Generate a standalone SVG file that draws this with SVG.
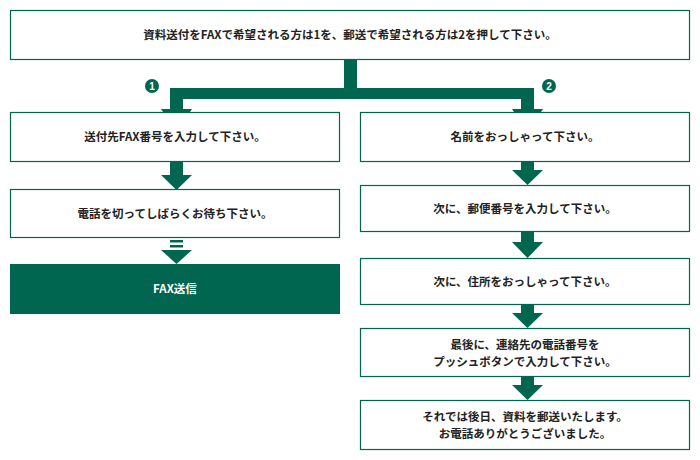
<svg xmlns="http://www.w3.org/2000/svg" width="700" height="460" viewBox="0 0 700 460">
<style>
.b{fill:#fff;stroke:#00664f;stroke-width:1.2}
.t{font-family:"Noto Sans CJK JP","Noto Sans",sans-serif;font-size:11.5px;font-weight:bold;fill:#222;text-anchor:middle}
.a{fill:#00664f}
.n{font-family:"Liberation Sans",sans-serif;font-size:10px;font-weight:bold;fill:#fff;text-anchor:middle}
</style>
<rect width="700" height="460" fill="#fff"/>
<g id="connectors" class="a">
<rect x="344" y="60" width="13" height="29"/>
<rect x="170" y="88" width="364" height="11"/>
<rect x="170" y="88" width="13" height="22"/>
<polygon points="161,109 192,109 176.5,132"/>
<rect x="521" y="88" width="13" height="22"/>
<polygon points="512,109 543,109 527.5,132"/>
<circle cx="152" cy="86" r="7"/><text class="n" x="152" y="89.5">1</text>
<circle cx="549" cy="86" r="7"/><text class="n" x="549" y="89.5">2</text>
<rect x="170" y="162" width="13" height="14"/><polygon points="161,175 192,175 176.5,190"/>
<rect x="170" y="240" width="13" height="2.5"/><rect x="170" y="245" width="13" height="2.5"/>
<polygon points="161,250 192,250 176.5,264"/>
<rect x="521" y="162" width="13" height="9"/><polygon points="512,170 543,170 527.5,185"/>
<rect x="521" y="232" width="13" height="11"/><polygon points="512,242 543,242 527.5,258"/>
<rect x="521" y="305" width="13" height="9"/><polygon points="512,313 543,313 527.5,328"/>
<rect x="521" y="377" width="13" height="9"/><polygon points="512,385 543,385 527.5,400"/>
</g>
<g id="top"><rect class="b" x="10.5" y="10.5" width="679" height="49"/><text class="t" x="350" y="39">資料送付をFAXで希望される方は1を、郵送で希望される方は2を押して下さい。</text></g>
<g id="l1"><rect class="b" x="10.5" y="112.5" width="329" height="49"/><text class="t" x="175" y="141">送付先FAX番号を入力して下さい。</text></g>
<g id="l2"><rect class="b" x="10.5" y="189.5" width="329" height="48"/><text class="t" x="175" y="218">電話を切ってしばらくお待ち下さい。</text></g>
<g id="l3"><rect x="10" y="264" width="330" height="50" fill="#00664f"/><text class="t" x="175" y="293" style="fill:#fff">FAX送信</text></g>
<g id="r1"><rect class="b" x="360.5" y="112.5" width="329" height="49"/><text class="t" x="525" y="141">名前をおっしゃって下さい。</text></g>
<g id="r2"><rect class="b" x="360.5" y="185.5" width="329" height="46"/><text class="t" x="525" y="213">次に、郵便番号を入力して下さい。</text></g>
<g id="r3"><rect class="b" x="360.5" y="258.5" width="329" height="46"/><text class="t" x="525" y="286">次に、住所をおっしゃって下さい。</text></g>
<g id="r4"><rect class="b" x="360.5" y="328.5" width="329" height="48"/><text class="t" x="525" y="349">最後に、連絡先の電話番号を</text><text class="t" x="525" y="366">プッシュボタンで入力して下さい。</text></g>
<g id="r5"><rect class="b" x="360.5" y="400.5" width="329" height="49"/><text class="t" x="525" y="421">それでは後日、資料を郵送いたします。</text><text class="t" x="525" y="438">お電話ありがとうございました。</text></g>
</svg>
